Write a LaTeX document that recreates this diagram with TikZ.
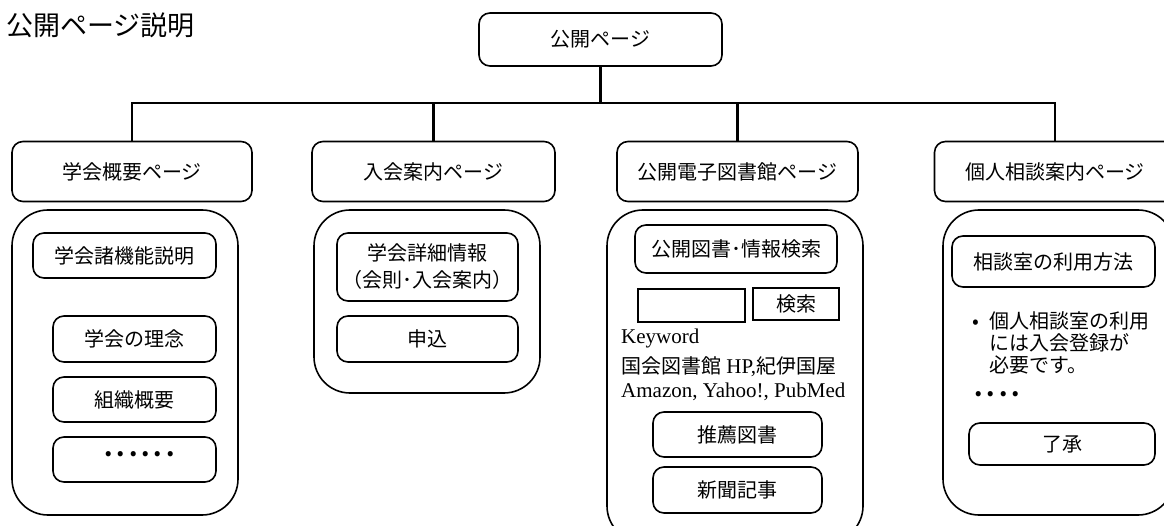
\documentclass[tikz,border=0pt]{standalone}
\usepackage{fontspec}
\setmainfont{Liberation Serif}
\newfontfamily\jp{Noto Sans CJK JP}
\tikzset{
  box/.style={draw, line width=1.6pt, rounded corners=11pt, inner sep=0pt, font=\jp\fontsize{20}{27}\selectfont, align=center},
  cont/.style={draw, line width=1.6pt, rounded corners=36pt, inner sep=0pt},
  plain/.style={draw, line width=1.6pt, inner sep=0pt, font=\jp\fontsize{20}{24}\selectfont},
  link/.style={line width=2.4pt},
  txt/.style={inner sep=0pt, anchor=west},
  dotsfont/.style={font=\jp\fontsize{24}{28}\selectfont\bfseries}
}
\begin{document}
\begin{tikzpicture}[x=1pt,y=-1pt]
\useasboundingbox (0,0) rectangle (1164,526);
\clip (0,0) rectangle (1164,526);
% title
\node[txt, font=\jp\fontsize{27}{30}\selectfont] (title) at (6,25) {公開ページ説明};
% top
\node[box, minimum width=243pt, minimum height=53pt] (top) at (600.5,39.5) {公開ページ};
% headers
\node[box, minimum width=240pt, minimum height=60pt] (h1) at (132,171.5) {学会概要ページ};
\node[box, minimum width=243pt, minimum height=60pt] (h2) at (433.5,171.5) {入会案内ページ};
\node[box, minimum width=241pt, minimum height=60pt] (h3) at (737.5,171.5) {公開電子図書館ページ};
\node[box, minimum width=241pt, minimum height=60pt] (h4) at (1055,171.5) {個人相談案内ページ};
% connectors
\coordinate (bus) at (600.5,103);
\draw[link] (top.south) -- (bus);
\draw[link] (h1.north) |- (bus) -| (h4.north);
\draw[link] (h2.north) -- (h2.north |- bus);
\draw[link] (h3.north) -- (h3.north |- bus);
% containers
\node[cont, minimum width=226pt, minimum height=305pt] (c1) at (125,362.5) {};
\node[cont, minimum width=226pt, minimum height=183pt] (c2) at (427,301.5) {};
\node[cont, minimum width=256pt, minimum height=332pt] (c3) at (735,376) {};
\node[cont, minimum width=231pt, minimum height=305pt] (c4) at (1058.5,362.5) {};
% column 1
\node[box, minimum width=183pt, minimum height=45pt] (a1) at (124.5,255.5) {学会諸機能説明};
\node[box, minimum width=163pt, minimum height=46pt] (a2) at (134.5,339) {学会の理念};
\node[box, minimum width=163pt, minimum height=45pt] (a3) at (134.5,399.5) {組織概要};
\node[box, minimum width=163pt, minimum height=45pt] (a4) at (134.5,459.5) {};
\node[txt, dotsfont] (a4t) at (104,454) {.\kern4pt.\kern4pt.\kern4pt.\kern4pt.\kern4pt.};
% column 2
\node[box, minimum width=181pt, minimum height=68pt] (b1) at (427.5,267) {学会詳細情報\\（会則･入会案内）};
\node[box, minimum width=181pt, minimum height=46pt] (b2) at (427.5,339) {申込};
% column 3
\node[box, minimum width=202pt, minimum height=48pt] (d1) at (736,249) {公開図書･情報検索};
\node[plain, minimum width=107pt, minimum height=33pt] (d2) at (691.5,305.5) {};
\node[plain, minimum width=86pt, minimum height=32pt] (d3) at (796,304) {検索};
\node[txt, font=\fontsize{21}{24}\selectfont] (k1) at (621,338) {Keyword};
\node[txt, font=\fontsize{21}{24}\selectfont] (k2) at (621,367) {{\jp\fontsize{20}{24}\selectfont 国会図書館} HP,{\jp\fontsize{20}{24}\selectfont 紀伊国屋}};
\node[txt, font=\fontsize{21}{24}\selectfont] (k3) at (621,392) {Amazon, Yahoo!, PubMed};
\node[box, minimum width=169pt, minimum height=45pt] (d4) at (737.5,434.5) {推薦図書};
\node[box, minimum width=169pt, minimum height=46pt] (d5) at (737.5,490) {新聞記事};
% column 4
\node[box, minimum width=203pt, minimum height=51pt] (e1) at (1053.5,261.5) {相談室の利用方法};
\node[txt, font=\jp\fontsize{20}{24}\selectfont] (bul) at (972,324) {•};
\node[inner sep=0pt, anchor=north west, align=left, font=\jp\fontsize{20}{22}\selectfont] (e2) at (989,312) {個人相談室の利用\\には入会登録が\\必要です。};
\node[txt, dotsfont] (edots) at (974,394) {.\kern4pt.\kern4pt.\kern4pt.};
\node[box, minimum width=186pt, minimum height=42pt] (e3) at (1062,444) {了承};
\end{tikzpicture}
\end{document}
